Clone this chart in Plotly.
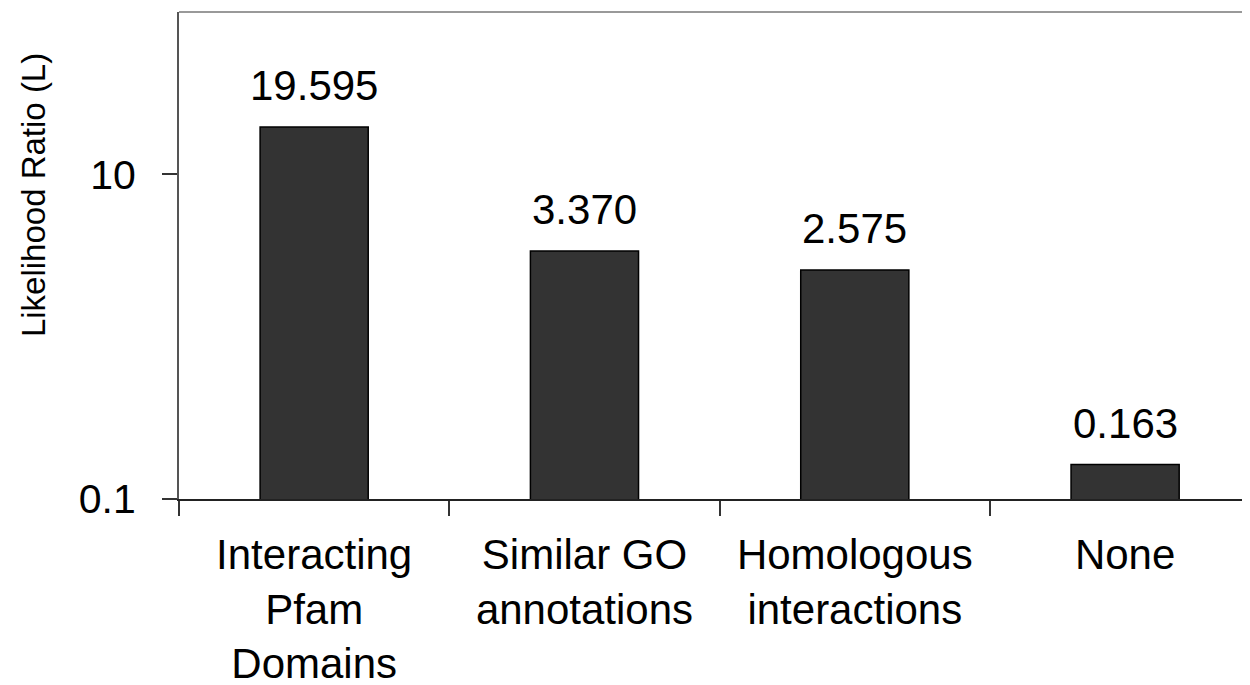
import math

import plotly.graph_objects as go

categories = [
    "Interacting<br>Pfam<br>Domains",
    "Similar GO<br>annotations",
    "Homologous<br>interactions",
    "None",
]
likelihood_ratio = [19.595, 3.370, 2.575, 0.163]
value_labels = ["19.595", "3.370", "2.575", "0.163"]
ytick_vals = [0.1, 10]
ytick_text = ["0.1", "10"]

FONT = "Liberation Sans, Arial, sans-serif"

fig = go.Figure()
fig.add_trace(
    go.Bar(
        x=categories,
        y=likelihood_ratio,
        width=0.4,
        marker=dict(color="#333333", line=dict(color="#000000", width=1.5)),
        showlegend=False,
        hoverinfo="x+y",
    )
)

# value labels above each bar
for cat, val, lab in zip(categories, likelihood_ratio, value_labels):
    fig.add_annotation(
        x=cat,
        y=math.log10(val),
        text=lab,
        showarrow=False,
        yanchor="bottom",
        yshift=16,
        font=dict(family=FONT, size=42, color="#000000"),
    )

# y axis title (sits a bit above the plot middle, as in the original)
fig.add_annotation(
    xref="paper",
    yref="paper",
    x=0,
    y=0.624,
    xshift=-146,
    xanchor="center",
    yanchor="middle",
    text="Likelihood Ratio (L)",
    textangle=-90,
    showarrow=False,
    font=dict(family=FONT, size=33, color="#000000"),
)

# top frame line
fig.add_shape(
    type="line",
    xref="paper",
    yref="paper",
    x0=0,
    x1=1,
    y0=1,
    y1=1,
    line=dict(color="#777777", width=1.5),
)

# page body has an 8px margin, so the figure is a bit smaller than the window
fig.update_layout(
    width=1242,
    height=677,
    margin=dict(l=171, r=0, t=4, b=186),
    plot_bgcolor="white",
    paper_bgcolor="white",
    font=dict(family=FONT, size=42, color="#000000"),
    xaxis=dict(
        range=[-0.5, 3.462],
        automargin=False,
        showline=True,
        linecolor="#222222",
        linewidth=1.5,
        ticks="outside",
        tickson="boundaries",
        ticklen=15,
        tickcolor="#333333",
        tickwidth=1.5,
        showgrid=False,
        ticklabelstandoff=18,
        tickfont=dict(family=FONT, size=42),
    ),
    yaxis=dict(
        type="log",
        range=[-1, 2],
        automargin=False,
        showline=True,
        linecolor="#555555",
        linewidth=2,
        ticks="outside",
        ticklen=15,
        tickcolor="#333333",
        tickwidth=1.5,
        tickvals=ytick_vals,
        ticktext=ytick_text,
        showgrid=False,
        zeroline=False,
        ticklabelstandoff=18,
        tickfont=dict(family=FONT, size=41),
    ),
)

fig.write_html("out.html")
